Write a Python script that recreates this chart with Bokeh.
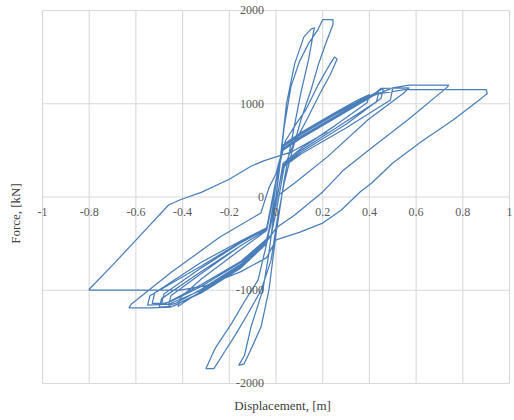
from math import pi

from bokeh.plotting import figure
from bokeh.models import Label, Range1d
from bokeh.core.properties import value
from bokeh.embed import file_html
from bokeh.resources import INLINE

# Axis ticks and their labels
X_TICKS = [-1.0, -0.8, -0.6, -0.4, -0.2, 0.0, 0.2, 0.4, 0.6, 0.8, 1.0]
X_LABELS = ["-1", "-0.8", "-0.6", "-0.4", "-0.2", "0", "0.2", "0.4", "0.6", "0.8", "1"]
Y_TICKS = [-2000, -1000, 0, 1000, 2000]
Y_LABELS = ["-2000", "-1000", "0", "1000", "2000"]

# Hysteresis record, branch by branch (displacement in m, force in kN)
# Stiff cycles with large force
E1_DISP = [0.00, 0.02, 0.045, 0.08, 0.12, 0.15, 0.165, 0.16, 0.14, 0.105, 0.07, 0.035,
           0.00, -0.03, -0.064, -0.11, -0.137, -0.16, -0.135, -0.107, -0.056, -0.03, -0.005, 0.015]
E1_FORCE = [0, 450, 1000, 1430, 1720, 1800, 1815, 1760, 1480, 1100, 650, 180,
            -400, -994, -1392, -1650, -1790, -1806, -1700, -1392, -994, -600, -100, 300]

E2_DISP = [0.035, 0.064, 0.10, 0.14, 0.18, 0.20, 0.244, 0.244, 0.215, 0.184, 0.15, 0.107, 0.07,
           0.035, 0.005, -0.021, -0.064, -0.12, -0.17, -0.22, -0.266, -0.30, -0.26, -0.19, -0.13,
           -0.077, -0.04, -0.01]
E2_FORCE = [750, 1183, 1450, 1650, 1795, 1903, 1903, 1850, 1660, 1440, 1150, 828, 500,
            150, -250, -677, -1000, -1250, -1462, -1660, -1840, -1840, -1620, -1355, -1100,
            -892, -500, -50]

E3_DISP = [0.01, 0.04, 0.09, 0.128, 0.18, 0.23, 0.25, 0.262, 0.23, 0.19, 0.13, 0.07, 0.035,
           0.005, -0.02, -0.045]
E3_FORCE = [350, 600, 800, 935, 1200, 1420, 1500, 1480, 1300, 1118, 820, 537, 320,
            -100, -400, -480]

# Yielding cycles
N1_DISP = [-0.15, -0.32, -0.40, -0.42, -0.41, -0.32, -0.15, -0.04]
N1_FORCE = [-740, -1010, -1140, -1175, -1080, -880, -560, -360]
Y1_DISP = [0.0, 0.03, 0.107, 0.25, 0.35, 0.40, 0.39, 0.25, 0.107, 0.03, 0.0, -0.04]
Y1_FORCE = [150, 560, 690, 900, 1040, 1097, 1010, 760, 520, 360, -80, -470]

N2_DISP = [-0.15, -0.32, -0.43, -0.46, -0.45, -0.32, -0.15, -0.04]
N2_FORCE = [-720, -990, -1140, -1160, -1060, -820, -520, -350]
Y2_DISP = [0.0, 0.03, 0.107, 0.25, 0.38, 0.44, 0.43, 0.25, 0.107, 0.03, 0.0, -0.04]
Y2_FORCE = [160, 540, 670, 880, 1060, 1120, 1020, 730, 500, 340, -70, -460]

N3_DISP = [-0.15, -0.32, -0.45, -0.49, -0.48, -0.32, -0.15, -0.04]
N3_FORCE = [-700, -960, -1120, -1150, -1040, -760, -490, -340]
Y3_DISP = [0.0, 0.03, 0.107, 0.25, 0.40, 0.46, 0.45, 0.30, 0.107, 0.03, 0.0, -0.04]
Y3_FORCE = [170, 520, 650, 860, 1080, 1165, 1060, 780, 480, 330, -60, -450]

N4_DISP = [-0.15, -0.32, -0.47, -0.53, -0.52, -0.32, -0.15, -0.04]
N4_FORCE = [-690, -940, -1140, -1140, -1030, -700, -470, -330]
Y4_DISP = [0.0, 0.03, 0.107, 0.25, 0.42, 0.50, 0.49, 0.30, 0.107, 0.03, 0.0, -0.04]
Y4_FORCE = [180, 500, 630, 840, 1090, 1170, 1040, 740, 460, 320, -50, -470]

N5_DISP = [-0.15, -0.32, -0.46, -0.55, -0.54, -0.32, -0.15, -0.04]
N5_FORCE = [-730, -1000, -1150, -1160, -1060, -740, -480, -340]

# Large cycles with force plateaus
B1_DISP = [0.0, 0.03, 0.107, 0.25, 0.40, 0.45, 0.57, 0.55, 0.394, 0.22, 0.08, 0.0, -0.04]
B1_FORCE = [170, 510, 640, 850, 1060, 1165, 1170, 1120, 828, 430, 150, 0, -500]

N6_DISP = [-0.15, -0.32, -0.45, -0.53, -0.63, -0.62, -0.45, -0.24, -0.065]
N6_FORCE = [-760, -1030, -1180, -1190, -1190, -1150, -810, -430, -172]

B2_DISP = [-0.03, 0.0, 0.03, 0.107, 0.25, 0.40, 0.50, 0.57, 0.74, 0.73, 0.565, 0.41, 0.29,
           0.20, 0.08, 0.0, -0.04]
B2_FORCE = [100, 250, 520, 650, 860, 1070, 1170, 1200, 1200, 1170, 828, 527, 290,
            54, -194, -333, -480]

N7_DISP = [-0.15, -0.32, -0.44, -0.50, -0.49, -0.32, -0.15, -0.04]
N7_FORCE = [-750, -1020, -1170, -1180, -1090, -800, -520, -350]

B3_DISP = [0.0, 0.03, 0.107, 0.25, 0.40, 0.55, 0.74, 0.90, 0.905, 0.88, 0.76, 0.62, 0.50,
           0.41, 0.36, 0.28, 0.20, 0.10, 0.0]
B3_FORCE = [170, 540, 680, 890, 1090, 1150, 1150, 1150, 1110, 1060, 828, 590, 365,
            150, 54, -140, -280, -380, -460]

NB_DISP = [-0.04, -0.15, -0.30, -0.41, -0.80, -0.80, -0.70, -0.58, -0.46, -0.41, -0.32,
           -0.20, -0.107, -0.05, 0.064, 0.15, 0.22]
NB_FORCE = [-650, -800, -950, -1000, -1000, -990, -731, -409, -86, -30, 50,
            190, 330, 390, 480, 600, 700]

BRANCHES = [
    (E1_DISP, E1_FORCE), (E2_DISP, E2_FORCE), (E3_DISP, E3_FORCE),
    (N1_DISP, N1_FORCE), (Y1_DISP, Y1_FORCE), (N2_DISP, N2_FORCE), (Y2_DISP, Y2_FORCE),
    (N3_DISP, N3_FORCE), (Y3_DISP, Y3_FORCE), (N4_DISP, N4_FORCE), (Y4_DISP, Y4_FORCE),
    (N5_DISP, N5_FORCE), (B1_DISP, B1_FORCE), (N6_DISP, N6_FORCE), (B2_DISP, B2_FORCE),
    (N7_DISP, N7_FORCE), (B3_DISP, B3_FORCE), (NB_DISP, NB_FORCE),
]

disp, force = [], []
for d, f in BRANCHES:
    disp.extend(d)
    force.extend(f)

SERIF = "Liberation Serif"
GRID = "#d9d9d9"
LABEL_COLOR = "#595959"

# The frame fills the whole canvas so that the labels sitting on the
# crossing axes are never clipped; the chart box itself is drawn by the grid.
p = figure(width=514, height=420, output_backend="svg", toolbar_location=None,
           x_range=Range1d(-1.1799, 1.0214), y_range=Range1d(-2397, 2107),
           min_border=0, x_axis_location=None, y_axis_location=None)
p.background_fill_color = "white"
p.border_fill_color = "white"
p.outline_line_color = None
p.grid.visible = False

x_lo, x_hi = min(X_TICKS), max(X_TICKS)
y_lo, y_hi = min(Y_TICKS), max(Y_TICKS)
p.segment(x0=X_TICKS, y0=[y_lo] * len(X_TICKS), x1=X_TICKS, y1=[y_hi] * len(X_TICKS),
          line_color=GRID, line_width=1.1)
p.segment(x0=[x_lo] * len(Y_TICKS), y0=Y_TICKS, x1=[x_hi] * len(Y_TICKS), y1=Y_TICKS,
          line_color=GRID, line_width=1.1)

p.line(disp, force, line_color="#4a7ebb", line_width=1.25)

# Tick labels sit on the axes that cross at the origin
p.text(x=X_TICKS, y=[0] * len(X_TICKS), text=X_LABELS, text_align="center",
       text_baseline="top", y_offset=11, text_font=value(SERIF),
       text_font_size="12px", text_color=LABEL_COLOR)
p.text(x=[0] * len(Y_TICKS), y=Y_TICKS, text=Y_LABELS, text_align="right",
       text_baseline="middle", x_offset=-12, text_font=value(SERIF),
       text_font_size="12px", text_color=LABEL_COLOR)

# Axis titles
p.add_layout(Label(x=0.028, y=-2236, text="Displacement, [m]", text_align="center",
                   text_baseline="middle", text_font=SERIF, text_font_size="13px",
                   text_color="#404040"))
p.add_layout(Label(x=-1.1156, y=-177, text="Force, [kN]", angle=pi / 2,
                   text_align="center", text_baseline="middle", text_font=SERIF,
                   text_font_size="13px", text_color="#404040"))

open("out.html", "w").write(file_html(p, INLINE))
